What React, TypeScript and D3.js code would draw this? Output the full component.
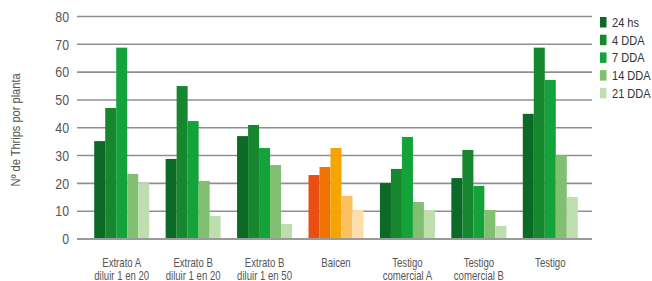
import React from "react";
import * as d3 from "d3";

const categories = [
  ["Extrato A", "diluir 1 en 20"],
  ["Extrato B", "diluir 1 en 20"],
  ["Extrato B", "diluir 1 en 50"],
  ["Baicen"],
  ["Testigo", "comercial A"],
  ["Testigo", "comercial B"],
  ["Testigo"],
];
const seriesNames = ["24 hs", "4 DDA", "7 DDA", "14 DDA", "21 DDA"];
const values24hs = [35.2, 28.8, 37, 23, 20.1, 21.9, 45];
const values4DDA = [47.1, 55, 41, 25.9, 25.2, 32, 68.8];
const values7DDA = [68.8, 42.4, 32.7, 32.7, 36.7, 19.1, 57.2];
const values14DDA = [23.4, 20.9, 26.6, 15.5, 13.3, 10.4, 30.1];
const values21DDA = [20.1, 8.3, 5.4, 10.4, 10.4, 4.7, 15.1];
const yTicks = [0, 10, 20, 30, 40, 50, 60, 70, 80];
const greens = ["#0b6a25", "#17872f", "#14a33a", "#80c070", "#bfdeb0"];
const oranges = ["#e84f10", "#ef7405", "#f6a500", "#fbc05f", "#fddeaa"];
const highlightIndex = 3;

const seriesValues = [values24hs, values4DDA, values7DDA, values14DDA, values21DDA];

function CText(props: {
  x: number;
  y: number;
  sx?: number;
  rotate?: number;
  anchor?: string;
  size: number;
  fill: string;
  dy?: string;
  children: React.ReactNode;
}) {
  const { x, y, sx = 0.83, rotate = 0, anchor = "start", size, fill, dy, children } = props;
  return (
    <g transform={`translate(${x},${y}) rotate(${rotate}) scale(${sx},1)`}>
      <text x={0} y={0} dy={dy} textAnchor={anchor} fontSize={size} fill={fill}>
        {children}
      </text>
    </g>
  );
}

export default function App() {
  const W = 652, H = 281;
  const y = d3.scaleLinear().domain([0, 80]).range([239, 16.5]);
  const x = d3
    .scaleBand<number>()
    .domain(d3.range(categories.length))
    .range([86, 586])
    .paddingInner(0.23)
    .paddingOuter(0.115);
  const xs = d3.scaleBand<number>().domain(d3.range(seriesNames.length)).range([0, x.bandwidth()]);
  const font = "'Liberation Sans', Arial, sans-serif";
  const textColor = "#555";

  return (
    <svg width={W} height={H} style={{ position: "absolute", left: 0, top: 0 }} fontFamily={font}>
      {yTicks.map((t) => (
        <g key={t}>
          <line x1={77} x2={592} y1={y(t)} y2={y(t)} stroke={t === 0 ? "#9a9a9a" : "#8f8f8f"} strokeWidth={t === 0 ? 2 : 1.6} />
          <CText x={69} y={y(t)} dy="0.36em" anchor="end" size={14.5} fill={textColor} sx={0.85}>
            {t}
          </CText>
        </g>
      ))}
      {categories.map((c, i) =>
        seriesValues.map((vals, s) => (
          <rect
            key={`${i}-${s}`}
            x={(x(i) as number) + (xs(s) as number)}
            width={xs.bandwidth()}
            y={y(vals[i])}
            height={y(0) - y(vals[i]) - 1}
            fill={i === highlightIndex ? oranges[s] : greens[s]}
          />
        ))
      )}
      {categories.map((c, i) =>
        c.map((line, k) => (
          <CText
            key={`${i}-${k}`}
            x={(x(i) as number) + x.bandwidth() / 2}
            y={267 + k * 13}
            anchor="middle"
            size={12}
            fill={textColor}
            sx={0.8}
          >
            {line}
          </CText>
        ))
      )}
      <CText x={20} y={130} rotate={-90} anchor="middle" size={13.5} fill={textColor} sx={0.82}>
        Nº de Thrips por planta
      </CText>
      {seriesNames.map((n, s) => (
        <g key={n} transform={`translate(600, ${22 + s * 17.7})`}>
          <rect x={0} y={-5} width={6.5} height={10.5} fill={greens[s]} />
          <CText x={12} y={0} dy="0.36em" size={13.5} fill="#333" sx={0.82}>
            {n}
          </CText>
        </g>
      ))}
    </svg>
  );
}
